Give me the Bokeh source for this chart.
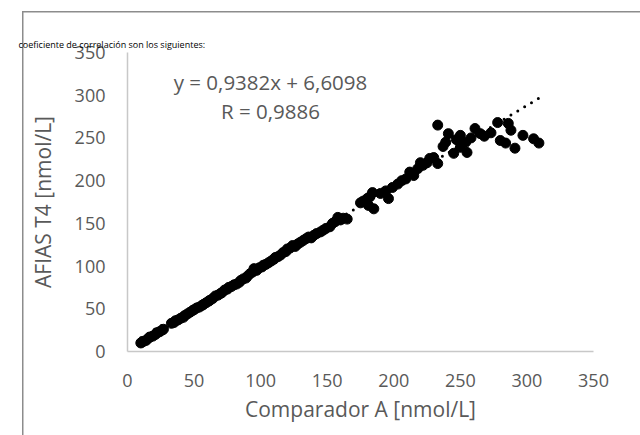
from bokeh.plotting import figure
from bokeh.models import Label, ColumnDataSource, LinearAxis, FixedTicker
from bokeh.embed import file_html
from bokeh.resources import INLINE

# ---- data ----
comparador_a = [10, 11, 12, 14, 16, 17, 19, 21, 22, 24, 26, 27, 33, 35, 36, 38, 40, 42, 43, 45,
                47, 49, 50, 52, 54, 56, 57, 59, 61, 62, 64, 66, 68, 70, 71, 73, 75, 76, 78, 80,
                82, 84, 85, 87, 89, 90, 92, 94, 95, 97, 99, 101, 102, 104, 106, 108, 110, 111, 113, 115,
                117, 119, 120, 122, 124, 126, 128, 130, 132, 134, 136, 138, 140, 142, 145, 147, 149, 152, 154, 156,
                158, 160, 162, 165,
                175, 177, 180, 182, 184, 185, 181, 190, 194, 196, 199, 203, 206, 209, 212, 215, 218, 220, 222, 225,
                227, 230, 233, 233, 237, 239, 241, 245, 247, 250, 250, 254, 255, 258, 261, 265, 268, 273, 278, 280,
                284, 286, 288, 291, 297, 305, 309]
afias_t4 = [10, 11, 12, 13, 16, 17, 18, 20, 22, 23, 25, 26, 33, 34, 36, 37, 39, 40, 42, 44,
            46, 48, 49, 51, 52, 54, 55, 57, 59, 60, 62, 65, 66, 68, 69, 72, 73, 75, 76, 78,
            79, 81, 83, 85, 86, 88, 91, 93, 97, 95, 98, 99, 101, 102, 104, 106, 108, 110, 111, 113,
            116, 117, 120, 121, 124, 123, 126, 128, 130, 132, 134, 133, 136, 138, 140, 142, 144, 146, 150, 152,
            157, 154, 156, 155,
            174, 176, 179, 181, 186, 167, 171, 185, 188, 179, 192, 196, 200, 202, 210, 206, 214, 221, 218, 221,
            226, 227, 220, 265, 240, 245, 255, 232, 248, 253, 239, 245, 233, 250, 261, 255, 252, 256, 268, 247,
            244, 267, 259, 238, 253, 249, 244]

slope = 0.9382
intercept = 6.6098
x_ticks = [0, 50, 100, 150, 200, 250, 300, 350]
y_ticks = [0, 50, 100, 150, 200, 250, 300, 350]

eq_text = "y = 0,9382x + 6,6098"
r_text = "R = 0,9886"
doc_text = "coeficiente de correlación son los siguientes:"

trend_x = [min(comparador_a), max(comparador_a)]
trend_y = [slope * v + intercept for v in trend_x]

FONT = "Open Sans"
GREY = "#595959"
FRAME = "#8c8c8c"

p = figure(width=640, height=435, x_range=(0, 350), y_range=(0, 350),
           output_backend="svg", toolbar_location=None,
           min_border_left=127, min_border_right=47, min_border_top=52, min_border_bottom=84)

# keep handles on the real axes before anything else is added
xax = p.xaxis[0]
yax = p.yaxis[0]

# transparent canvas so that the document box lines (CSS) show through
p.background_fill_color = None
p.border_fill_color = None
p.outline_line_color = None
p.grid.visible = False
p.styles = {
    "background-color": "white",
    "background-image": f"linear-gradient({FRAME}, {FRAME}), linear-gradient({FRAME}, {FRAME})",
    "background-size": "1.5px 100%, 100% 1.5px",
    "background-position": "22px 11px, 22px 11px",
    "background-repeat": "no-repeat",
}

# invisible spacer (empty axis) between the plot frame and the document text line
spacer = LinearAxis(ticker=FixedTicker(ticks=[]), axis_line_color=None,
                    major_tick_line_color=None, minor_tick_line_color=None,
                    major_tick_out=36, minor_tick_out=0, major_tick_in=0, minor_tick_in=0,
                    major_label_standoff=0)
p.add_layout(spacer, "above")

# line of document text above the chart box
p.title.text = doc_text
p.title.text_font = FONT
p.title.text_font_size = "9px"
p.title.text_font_style = "normal"
p.title.text_color = "black"
p.title.align = "left"
p.title.offset = -109
p.title.vertical_align = "top"
p.title.standoff = 0

src = ColumnDataSource(dict(x=comparador_a, y=afias_t4))
p.scatter("x", "y", source=src, size=10, color="black")
p.line(trend_x, trend_y, line_color="black", line_width=3, line_dash="0 8", line_cap="round")

for ax in (xax, yax):
    ax.axis_line_color = "#c8c8c8"
    ax.axis_line_width = 1.5
    ax.major_tick_line_color = None
    ax.minor_tick_line_color = None
    ax.major_label_text_font = FONT
    ax.major_label_text_font_size = "18px"
    ax.major_label_text_color = GREY
    ax.axis_label_text_font = FONT
    ax.axis_label_text_font_size = "21px"
    ax.axis_label_text_color = GREY
    ax.axis_label_text_font_style = "normal"

xax.ticker = x_ticks
yax.ticker = y_ticks
xax.axis_label = "Comparador A [nmol/L]"
yax.axis_label = "AFIAS T4 [nmol/L]"
xax.major_label_standoff = 16
yax.major_label_standoff = 16
xax.axis_label_standoff = 5
yax.axis_label_standoff = 15

p.add_layout(Label(x=107.4, y=315, text=eq_text, text_align="center", text_baseline="alphabetic",
                   text_font=FONT, text_font_size="20.5px", text_color=GREY))
p.add_layout(Label(x=107.4, y=281, text=r_text, text_align="center", text_baseline="alphabetic",
                   text_font=FONT, text_font_size="20.5px", text_color=GREY))

open("out.html", "w").write(file_html(p, INLINE))
